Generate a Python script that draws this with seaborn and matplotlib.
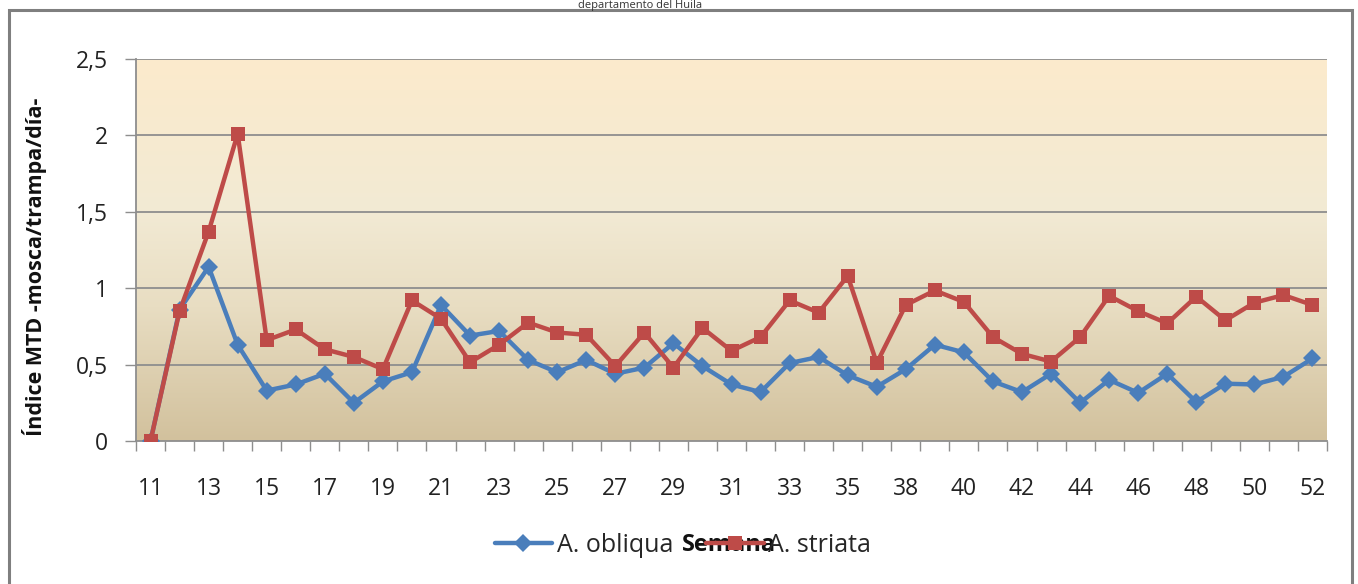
import numpy as np
import pandas as pd
import seaborn as sns
import matplotlib.pyplot as plt
from matplotlib.colors import LinearSegmentedColormap
from matplotlib.lines import Line2D
from matplotlib.patches import Rectangle

# Semanas muestreadas (falta la 36)
semanas = [11, 12, 13, 14, 15, 16, 17, 18, 19, 20, 21, 22, 23, 24, 25, 26, 27, 28,
           29, 30, 31, 32, 33, 34, 35, 37, 38, 39, 40, 41, 42, 43, 44, 45, 46, 47,
           48, 49, 50, 51, 52]

obliqua = [0.0, 0.86, 1.14, 0.63, 0.33, 0.37, 0.44, 0.25, 0.39, 0.45, 0.89, 0.69,
           0.72, 0.53, 0.45, 0.53, 0.44, 0.48, 0.64, 0.49, 0.37, 0.32, 0.51, 0.55,
           0.43, 0.355, 0.47, 0.63, 0.58, 0.39, 0.32, 0.44, 0.25, 0.40, 0.315, 0.44,
           0.255, 0.375, 0.37, 0.42, 0.54]

striata = [0.0, 0.85, 1.37, 2.01, 0.66, 0.73, 0.60, 0.55, 0.47, 0.92, 0.80, 0.515,
           0.63, 0.775, 0.71, 0.695, 0.49, 0.71, 0.48, 0.74, 0.59, 0.68, 0.92, 0.84,
           1.08, 0.51, 0.89, 0.985, 0.91, 0.68, 0.57, 0.52, 0.68, 0.95, 0.85, 0.77,
           0.945, 0.79, 0.905, 0.955, 0.89]

y_ticks = [0, 0.5, 1, 1.5, 2, 2.5]
y_tick_labels = ["0", "0,5", "1", "1,5", "2", "2,5"]

azul = "#4A7EBB"
rojo = "#BE4B48"

df = pd.DataFrame({"pos": np.arange(len(semanas)), "semana": semanas,
                   "A. obliqua": obliqua, "A. striata": striata})

sns.set_style("white")
plt.rcParams["font.family"] = ["Open Sans", "DejaVu Sans"]

fig = plt.figure(figsize=(13.58, 5.84), dpi=100)
ax = fig.add_axes([136 / 1358, 1 - 441 / 584, (1327 - 136) / 1358, (441 - 59) / 584])

# fondo degradado del area de trazado
cmap = LinearSegmentedColormap.from_list("fondo", [(0, "#D2C19D"), (0.35, "#E8DDC2"),
                                                    (0.6, "#F2EAD4"), (1, "#FCEBCC")])
grad = np.linspace(0, 1, 256).reshape(-1, 1)
ax.imshow(grad, cmap=cmap, aspect="auto", origin="lower",
          extent=(-0.5, len(semanas) - 0.5, 0, 2.5), zorder=0)

for yv in y_ticks[1:]:
    ax.axhline(yv, color="#8E8E8E", lw=1.3, zorder=1)

sns.lineplot(data=df, x="pos", y="A. obliqua", ax=ax, color=azul, lw=3.2,
             marker="D", markersize=9, markeredgewidth=0, zorder=3)
sns.lineplot(data=df, x="pos", y="A. striata", ax=ax, color=rojo, lw=3.2,
             marker="s", markersize=10, markeredgewidth=0, zorder=4)

ax.set_xlim(-0.5, len(semanas) - 0.5)
ax.set_ylim(0, 2.5)

# marcas entre categorias, etiquetas cada dos semanas
ax.set_xticks(np.arange(len(semanas) + 1) - 0.5)
ax.set_xticklabels([])
ax.tick_params(axis="x", which="major", direction="out", length=7, width=1,
               color="#8E8E8E", bottom=True)
ax.set_xticks(np.arange(0, len(semanas), 2), minor=True)
ax.set_xticklabels([str(s) for s in semanas[::2]], minor=True)
ax.tick_params(axis="x", which="minor", length=0, pad=26, labelsize=16.5,
               labelcolor="#222222")

ax.set_yticks(y_ticks)
ax.set_yticklabels(y_tick_labels)
ax.tick_params(axis="y", direction="out", length=8, width=1, color="#8E8E8E",
               left=True, pad=12, labelsize=16.5, labelcolor="#222222")

for lado in ["top", "right"]:
    ax.spines[lado].set_visible(False)
for lado in ["left", "bottom"]:
    ax.spines[lado].set_color("#8E8E8E")
    ax.spines[lado].set_linewidth(1.3)

ax.set_xlabel("")
ax.set_ylabel("Índice MTD -mosca/trampa/día-", fontsize=15.5, fontweight="bold",
              color="#111111")
ax.yaxis.set_label_coords(-0.075, 0.455)

# leyenda y titulo del eje x superpuestos, como en el original
handles = [Line2D([], [], color=azul, lw=3.2, marker="D", markersize=9, markeredgewidth=0),
           Line2D([], [], color=rojo, lw=3.2, marker="s", markersize=10, markeredgewidth=0)]
fig.legend(handles, ["A. obliqua", "A. striata"], loc="center",
           bbox_to_anchor=(683 / 1358, 1 - 545 / 584), ncol=2, frameon=False,
           fontsize=18, handlelength=2.3, handletextpad=0.2, columnspacing=1.3)
fig.text(729 / 1358, 1 - 545 / 584, "Semana", ha="center", va="center",
         fontsize=17, fontweight="bold", color="#111111")

# titulo (cortado en el original por el borde superior)
fig.text(640 / 1358, 1.0, "departamento del Huila", ha="center", va="top",
         fontsize=8, color="#333333")

# marco exterior del grafico
fig.patches.append(Rectangle((9 / 1358, -0.05), (1352 - 9) / 1358, 1.05 - 10 / 584,
                             transform=fig.transFigure, fill=False,
                             edgecolor="#7F7F7F", lw=2.2))

fig.savefig("out.png", dpi=100, facecolor="white")
